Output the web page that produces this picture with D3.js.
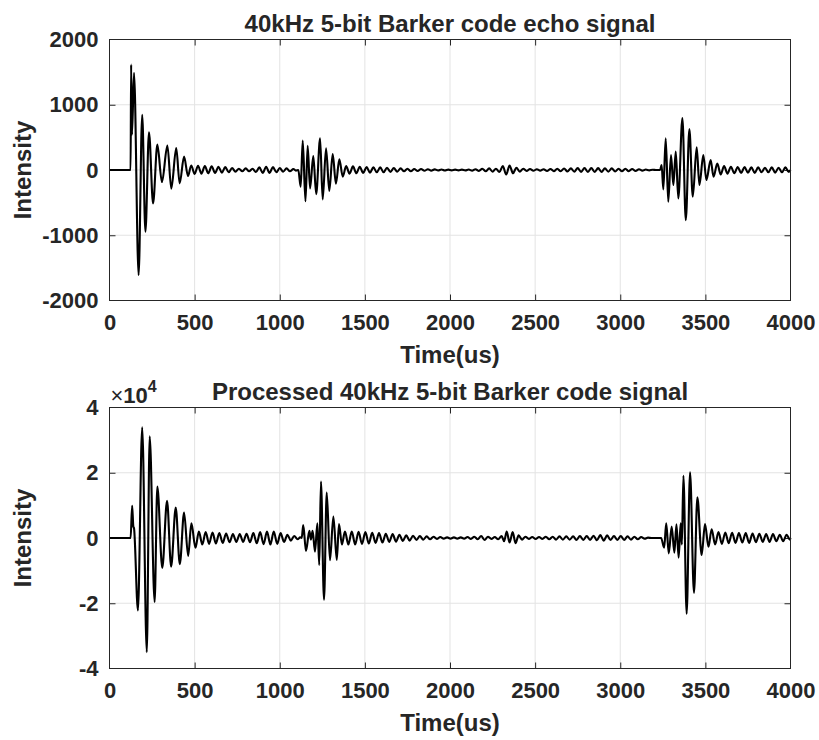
<!DOCTYPE html>
<html>
<head>
<meta charset="utf-8">
<script src="https://cdn.jsdelivr.net/npm/d3@7/dist/d3.min.js"></script>
<style>
  html, body { margin: 0; padding: 0; background: #ffffff; }
  svg { display: block; }
  text { font-family: "Liberation Sans", Arial, Helvetica, sans-serif; font-weight: bold; fill: #262626; }
</style>
</head>
<body>
<svg id="chart" width="819" height="740"></svg>
<script>
// ---- Shared axis settings ----
const timeTicks = [0, 500, 1000, 1500, 2000, 2500, 3000, 3500, 4000];
const echoTicks = [-2000, -1000, 0, 1000, 2000];
const procTicks = [-4, -2, 0, 2, 4];          // shown in units of 10^4
const procExponent = 4;

// ---- Echo signal: extrema [time (us), intensity] ----
const echoBurstA = [
  [0, 0], [124, 0], [127, 1615], [132, 540], [144, 1490], [171, -1610], [192, 846],
  [211, -945], [232, 578], [256, -513], [281, 390], [308, -185], [340, 374],
  [363, -285], [392, 335], [412, -205], [438, 205], [461, -92]
];
const echoRippleA = [
  [480, 70], [500, -60], [520, 65], [540, -55], [560, 60], [580, -50], [600, 55],
  [620, -45], [640, 50], [660, -40], [680, 45], [700, -35], [720, 30], [740, -25],
  [760, 20], [780, -20], [800, 25], [820, -20], [840, 20], [860, -30], [880, 40],
  [900, -45], [920, 50], [940, -45], [960, 45], [980, -35], [1000, 30], [1020, -25],
  [1040, 25], [1060, -20], [1080, 15], [1095, -10], [1109, 0]
];
const echoBurstB = [
  [1123, -256], [1135, 451], [1151, -480], [1164, 369], [1178, -282], [1197, 215],
  [1214, -370], [1237, 487], [1252, -451], [1272, 333], [1291, -320], [1311, 245],
  [1330, -210], [1350, 165], [1370, -103]
];
const echoRippleB = [
  [1390, 60], [1410, -55], [1430, 55], [1450, -50], [1470, 50], [1490, -45], [1510, 45],
  [1530, -40], [1550, 40], [1570, -35], [1590, 40], [1610, -35], [1630, 35], [1650, -30],
  [1670, 30], [1690, -25], [1710, 25], [1730, -20], [1750, 20], [1770, -20], [1790, 15],
  [1810, -15], [1830, 15], [1850, -12], [1870, 12], [1890, -10], [1910, 10], [1930, -8],
  [1950, 8], [1970, -8], [1990, 6], [2010, -6], [2030, 6], [2050, -5], [2070, 5],
  [2090, -6], [2110, 8], [2130, -10], [2150, 12], [2170, -15], [2190, 20], [2210, -20],
  [2230, 25], [2250, -25], [2270, 20], [2290, -30], [2310, 60], [2330, -70], [2350, 70],
  [2370, -50], [2390, 35], [2410, -25], [2430, 20], [2450, -15], [2470, 15], [2490, -12],
  [2510, 12], [2530, -10], [2550, 12], [2570, -15], [2590, 15], [2610, -18], [2630, 20],
  [2650, -20], [2670, 22], [2690, -22], [2710, 25], [2730, -25], [2750, 28], [2770, -28],
  [2790, 30], [2810, -30], [2830, 30], [2850, -30], [2870, 28], [2890, -28], [2910, 25],
  [2930, -25], [2950, 25], [2970, -22], [2990, 20], [3010, -20], [3030, 20], [3050, -18],
  [3070, 15], [3090, -15], [3110, 12], [3130, -10], [3150, 8], [3170, -5], [3190, 3],
  [3210, 0], [3234, 0]
];
const echoBurstC = [
  [3243, 77], [3253, -297], [3267, 487], [3282, -487], [3298, 231], [3312, -231],
  [3326, 282], [3341, -436], [3365, 795], [3385, -769], [3406, 626], [3426, -410],
  [3449, 349], [3465, -231], [3488, 231], [3506, -154], [3531, 154], [3548, -103],
  [3570, 100]
];
const echoRippleC = [
  [3590, -70], [3610, 60], [3630, -55], [3650, 50], [3670, -50], [3690, 45], [3710, -45],
  [3730, 45], [3750, -40], [3770, 40], [3790, -45], [3810, 40], [3830, -35], [3850, 35],
  [3870, -35], [3890, 40], [3910, -40], [3930, 35], [3950, -35], [3970, 40], [3990, -30],
  [4000, 0]
];

// ---- Processed signal: extrema [time (us), intensity / 10^4] ----
const procBurstA = [
  [0, 0], [124, 0], [133, 0.99], [140, 0.35], [144, 0.3], [167, -2.22], [192, 3.39],
  [219, -3.5], [236, 3.12], [265, -1.96], [281, 1.58], [310, -0.92], [338, 1.14],
  [362, -0.88], [389, 0.93], [413, -0.8], [438, 0.78], [462, -0.55], [481, 0.45],
  [505, -0.3], [525, 0.2]
];
const procRippleA = [
  [545, -0.2], [565, 0.18], [585, -0.18], [605, 0.17], [625, -0.17], [645, 0.15],
  [665, -0.15], [685, 0.14], [705, -0.13], [725, 0.12], [745, -0.12], [765, 0.12],
  [785, -0.12], [805, 0.13], [825, -0.13], [845, 0.15], [865, -0.16], [885, 0.18],
  [905, -0.19], [925, 0.2], [945, -0.2], [965, 0.2], [985, -0.18], [1005, 0.15],
  [1025, -0.12], [1045, 0.1], [1065, -0.08], [1085, 0.06], [1105, -0.04], [1120, 0.02],
  [1129, 0]
];
const procBurstB = [
  [1138, 0.4], [1154, -0.4], [1174, 0.22], [1183, -0.05], [1193, 0.22], [1207, -0.42],
  [1221, 0.45], [1232, -0.83], [1242, 1.73], [1260, -1.89], [1276, 1.39], [1295, -0.68],
  [1315, 0.66], [1335, -0.67], [1348, 0.43], [1365, -0.2], [1383, 0.2]
];
const procRippleB = [
  [1403, -0.2], [1423, 0.2], [1443, -0.2], [1463, 0.19], [1483, -0.18], [1503, 0.18],
  [1523, -0.17], [1543, 0.16], [1563, -0.15], [1583, 0.15], [1603, -0.14], [1623, 0.13],
  [1643, -0.12], [1663, 0.12], [1683, -0.11], [1703, 0.1], [1723, -0.09], [1743, 0.08],
  [1763, -0.08], [1783, 0.07], [1803, -0.06], [1823, 0.06], [1843, -0.05], [1863, 0.05],
  [1883, -0.04], [1903, 0.04], [1923, -0.03], [1943, 0.03], [1963, -0.02], [1983, 0.02],
  [2003, -0.02], [2023, 0.02], [2043, -0.02], [2063, 0.02], [2083, -0.02], [2103, 0.03],
  [2123, -0.03], [2143, 0.04], [2163, -0.04], [2183, 0.06], [2203, -0.06], [2223, 0.04],
  [2243, -0.03], [2263, 0.03], [2283, -0.04], [2303, 0.06], [2318, -0.1], [2333, 0.2],
  [2350, -0.14], [2368, 0.18], [2385, -0.16], [2403, 0.08], [2423, -0.05], [2443, 0.04],
  [2463, -0.03], [2483, 0.03], [2503, -0.03], [2523, 0.03], [2543, -0.03], [2563, 0.04],
  [2583, -0.04], [2603, 0.04], [2623, -0.05], [2643, 0.05], [2663, -0.05], [2683, 0.05],
  [2703, -0.05], [2723, 0.05], [2743, -0.06], [2763, 0.06], [2783, -0.06], [2803, 0.06],
  [2823, -0.06], [2843, 0.07], [2863, -0.07], [2883, 0.09], [2903, -0.08], [2923, 0.08],
  [2943, -0.06], [2963, 0.06], [2983, -0.06], [3003, 0.06], [3023, -0.06], [3043, 0.05],
  [3063, -0.05], [3083, 0.04], [3103, -0.04], [3123, 0.03], [3143, -0.02], [3163, 0.01],
  [3183, 0], [3240, 0]
];
const procBurstC = [
  [3258, -0.3], [3270, 0.45], [3285, -0.47], [3302, 0.35], [3318, -0.45], [3330, 0.42],
  [3343, -0.6], [3355, 0.45], [3362, -0.2], [3371, 1.91], [3390, -2.32], [3410, 2.01],
  [3433, -1.68], [3453, 1.25], [3478, -0.52], [3498, 0.43], [3518, -0.27], [3537, 0.27]
];
const procRippleC = [
  [3557, -0.2], [3577, 0.18], [3597, -0.18], [3617, 0.17], [3637, -0.16], [3657, 0.16],
  [3677, -0.15], [3697, 0.15], [3717, -0.14], [3737, 0.15], [3757, -0.15], [3777, 0.14],
  [3797, -0.13], [3817, 0.13], [3837, -0.12], [3857, 0.12], [3877, -0.12], [3897, 0.12],
  [3917, -0.1], [3937, 0.1], [3957, -0.1], [3977, 0.1], [3997, -0.05], [4000, 0]
];

const echoSignal = [].concat(echoBurstA, echoRippleA, echoBurstB, echoRippleB, echoBurstC, echoRippleC);
const procSignal = [].concat(procBurstA, procRippleA, procBurstB, procRippleB, procBurstC, procRippleC);

// ---- Layout ----
const svg = d3.select("#chart");
const left = 109.5, right = 790.5;
const tickLen = 6;
const tickFont = 22, labelFont = 24;
const plain = d => String(d);   // integers with an ASCII hyphen for negatives

const x = d3.scaleLinear().domain([0, 4000]).range([left, right]);

function drawPanel(cfg) {
  const y = d3.scaleLinear().domain(cfg.yDomain).range([cfg.bottom, cfg.top]);
  const g = svg.append("g");

  // grid
  g.append("g").selectAll("line").data(timeTicks.slice(1, -1)).join("line")
    .attr("x1", d => x(d)).attr("x2", d => x(d))
    .attr("y1", cfg.top).attr("y2", cfg.bottom)
    .attr("stroke", "#e3e3e3").attr("stroke-width", 1);
  g.append("g").selectAll("line").data(cfg.yTicks.slice(1, -1)).join("line")
    .attr("x1", left).attr("x2", right)
    .attr("y1", d => y(d)).attr("y2", d => y(d))
    .attr("stroke", "#e3e3e3").attr("stroke-width", 1);

  // axes with inward ticks on all four sides
  const xb = g.append("g").attr("transform", `translate(0,${cfg.bottom})`)
    .call(d3.axisBottom(x).tickValues(timeTicks).tickSizeInner(-tickLen).tickSizeOuter(0)
      .tickPadding(14).tickFormat(plain));
  const xt = g.append("g").attr("transform", `translate(0,${cfg.top})`)
    .call(d3.axisTop(x).tickValues(timeTicks).tickSizeInner(-tickLen).tickSizeOuter(0).tickFormat(""));
  const yl = g.append("g").attr("transform", `translate(${left},0)`)
    .call(d3.axisLeft(y).tickValues(cfg.yTicks).tickSizeInner(-tickLen).tickSizeOuter(0)
      .tickPadding(11).tickFormat(plain));
  const yr = g.append("g").attr("transform", `translate(${right},0)`)
    .call(d3.axisRight(y).tickValues(cfg.yTicks).tickSizeInner(-tickLen).tickSizeOuter(0).tickFormat(""));

  [xb, xt, yl, yr].forEach(a => {
    a.select(".domain").remove();
    a.selectAll(".tick line").attr("stroke", "#262626").attr("stroke-width", 1);
    a.selectAll(".tick text").attr("fill", "#262626").style("font-size", tickFont + "px")
      .style("font-family", '"Liberation Sans", Arial, sans-serif').style("font-weight", "bold");
  });
  // end ticks would sit on the frame corners
  xb.selectAll(".tick line").filter(d => d === 0 || d === 4000).remove();
  xt.selectAll(".tick line").filter(d => d === 0 || d === 4000).remove();
  yl.selectAll(".tick line").filter((d, i) => i === 0 || i === cfg.yTicks.length - 1).remove();
  yr.selectAll(".tick line").filter((d, i) => i === 0 || i === cfg.yTicks.length - 1).remove();

  // signal trace
  const line = d3.line()
    .x(d => x(d[0]))
    .y(d => y(d[1]))
    .curve(d3.curveMonotoneX);
  g.append("path").datum(cfg.data)
    .attr("d", line)
    .attr("fill", "none")
    .attr("stroke", "#000000")
    .attr("stroke-width", 2.1)
    .attr("stroke-linejoin", "round");

  // frame
  g.append("rect")
    .attr("x", left).attr("y", cfg.top)
    .attr("width", right - left).attr("height", cfg.bottom - cfg.top)
    .attr("fill", "none").attr("stroke", "#262626").attr("stroke-width", 1);

  // title
  g.append("text")
    .attr("x", (left + right) / 2).attr("y", cfg.top - 8)
    .attr("text-anchor", "middle")
    .style("font-size", labelFont + "px")
    .attr("fill", "#000000")
    .text(cfg.title);

  // x label
  g.append("text")
    .attr("x", (left + right) / 2).attr("y", cfg.bottom + 62)
    .attr("text-anchor", "middle")
    .style("font-size", labelFont + "px")
    .text("Time(us)");

  // y label
  g.append("text")
    .attr("transform", `translate(31,${(cfg.top + cfg.bottom) / 2}) rotate(-90)`)
    .attr("text-anchor", "middle")
    .style("font-size", labelFont + "px")
    .text("Intensity");

  return { g, y };
}

drawPanel({
  top: 39.5, bottom: 300.5,
  yDomain: [-2000, 2000], yTicks: echoTicks,
  data: echoSignal,
  title: "40kHz 5-bit Barker code echo signal"
});

const lower = drawPanel({
  top: 407.5, bottom: 668.5,
  yDomain: [-4, 4], yTicks: procTicks,
  data: procSignal,
  title: "Processed 40kHz 5-bit Barker code signal"
});

// exponent marker for the lower panel
const expLabel = lower.g.append("text")
  .attr("x", left + 1).attr("y", 403)
  .style("font-size", "22px");
expLabel.append("tspan").style("font-weight", "normal").text("\u00D7");
expLabel.append("tspan").text("10");
expLabel.append("tspan").attr("dy", -11).style("font-size", "16px").text(procExponent);
</script>
</body>
</html>
